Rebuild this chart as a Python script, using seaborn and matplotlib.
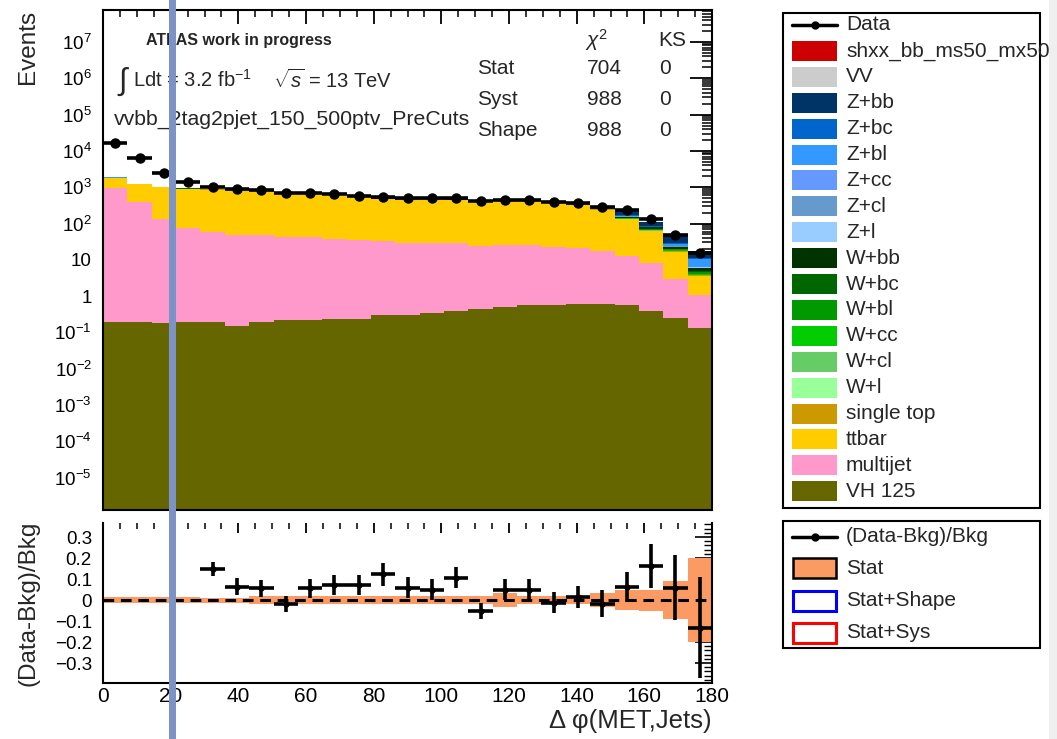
import numpy as np
import pandas as pd
import matplotlib
matplotlib.use("Agg")
import matplotlib.pyplot as plt
import seaborn as sns
from matplotlib.ticker import MultipleLocator, LogLocator, FuncFormatter, NullFormatter
from matplotlib.patches import Rectangle
from matplotlib.lines import Line2D

# ---------------- data ----------------
edges = np.linspace(0, 180, 26)

data_events = [16000, 6500, 2500, 1400, 1020, 870, 830, 700, 700, 630, 590, 550, 490,
               490, 510, 425, 445, 445, 400, 360, 280, 235, 131, 48, 15]

vh125 = [0.197, 0.197, 0.178, 0.19, 0.19, 0.153, 0.19, 0.215, 0.215, 0.24, 0.24, 0.31, 0.31,
         0.35, 0.39, 0.44, 0.49, 0.56, 0.56, 0.62, 0.62, 0.56, 0.39, 0.245, 0.135]
multijet = [970, 400, 132, 74, 59, 48, 48, 42, 42, 37, 35, 32, 28,
            28, 28, 23, 25.5, 24.5, 21.5, 20.4, 16.4, 12.0, 7.6, 2.65, 0.94]
ttbar = [850, 795, 855, 823, 796, 738, 707, 643, 592, 525, 490, 433, 411,
         416, 407, 400, 374, 375, 358, 302, 220, 117, 53, 13.9, 2.5]
single_top = [20, 18, 20, 20, 20, 19, 18, 17, 16, 14, 13, 12, 11,
              11, 11, 10, 10, 10, 9, 8, 7, 4, 2, 0.6, 0.15]
w_l = [3, 3, 1, 1, 1, 1, 1, 1, 1, 1, 1, 1, 1, 1, 1, 1, 1, 1, 1, 1, 1, 1, 0.5, 0.2, 0.1]
w_cl = [0.5, 0.5, 0.5, 0.5, 0.5, 0.5, 0.5, 0.5, 0.5, 0.5, 0.5, 0.5, 0.5,
        0.5, 0.5, 0.5, 0.5, 0.5, 0.5, 0.5, 0.5, 1.0, 0.7, 0.3, 0.1]
w_cc = [0.5, 0.5, 0.5, 0.5, 0.5, 0.5, 0.5, 0.5, 0.5, 0.5, 0.5, 0.5, 0.5,
        0.5, 0.5, 0.5, 0.5, 0.5, 0.5, 0.5, 1.0, 2.0, 1.5, 0.5, 0.2]
w_bl = [1, 1, 1, 1, 1, 1, 1, 1, 1, 1, 1, 1, 1, 1, 1, 1, 1, 1, 1, 1.5, 1.5, 4, 3, 1, 0.5]
w_bc = [0.5, 0.5, 0.5, 0.5, 0.5, 0.5, 0.5, 0.5, 0.5, 0.5, 0.5, 0.5, 0.5,
        0.5, 0.5, 0.5, 0.5, 0.5, 0.5, 1.0, 1.5, 3.0, 2.5, 1.0, 0.4]
w_bb = [1, 1, 1, 1, 1, 1, 1, 1, 1, 1, 1, 1, 1, 1, 1, 1, 1, 1, 1.5, 2, 4, 10, 7, 2.5, 1.1]
z_l = [1.0, 0.6, 0.6, 0.6, 0.6, 0.6, 0.6, 0.6, 0.6, 0.6, 0.6, 0.6, 0.6,
       0.6, 0.6, 0.6, 0.6, 0.6, 0.6, 0.6, 0.6, 0.6, 0.5, 0.2, 0.1]
z_cl = [0.5, 0.5, 0.5, 0.5, 0.5, 0.5, 0.5, 0.5, 0.5, 0.5, 0.5, 0.5, 0.5,
        0.5, 0.5, 0.5, 0.5, 0.5, 0.5, 0.5, 0.5, 0.5, 0.5, 0.2, 0.1]
z_cc = [0.8, 0.5, 0.5, 0.5, 0.5, 0.5, 0.5, 0.5, 0.5, 0.5, 0.5, 0.5, 0.5,
        0.5, 0.5, 0.5, 0.5, 0.5, 0.5, 0.5, 1.0, 1.0, 0.5, 0.2, 0.1]
z_bl = [4, 2, 1.5, 1.5, 1.5, 1.5, 1.5, 1.5, 1.5, 1.5, 1.5, 1.5, 1.5,
        1.5, 3, 3, 2, 1.5, 1.5, 1.5, 2, 3, 2, 3.5, 3.8]
z_bc = [1, 1, 1, 1, 1, 1, 1, 1, 1, 1, 1, 1, 1, 1, 1, 1, 1, 1, 1, 2, 4, 10, 5, 2.5, 1.1]
z_bb = [6, 4, 4, 4, 4, 4, 4, 4, 4, 4, 4, 4, 4, 4, 5, 5, 6, 7, 8, 12, 22, 50, 25, 15, 6]
vv = [0.8, 0.6, 0.6, 0.6, 0.6, 0.6, 0.6, 0.6, 0.6, 0.6, 0.6, 0.6, 0.6,
      0.6, 0.6, 0.6, 0.6, 0.6, 0.6, 0.7, 1.0, 1.5, 1.0, 0.5, 0.2]
signal = [0.0] * 25

# (Data-Bkg)/Bkg panel
ratio = [np.nan, np.nan, np.nan, np.nan, 0.149, 0.063, 0.056, -0.021, 0.056, 0.07, 0.07, 0.122, 0.059,
         0.048, 0.106, -0.052, 0.048, 0.048, -0.013, 0.016, -0.017, 0.062, 0.162, 0.059, -0.132]
ratio_err = [np.nan, np.nan, np.nan, np.nan, 0.033, 0.04, 0.04, 0.038, 0.045, 0.048, 0.048, 0.053, 0.05,
             0.05, 0.05, 0.04, 0.05, 0.05, 0.05, 0.053, 0.063, 0.073, 0.105, 0.156, 0.24]
stat_err = [0.016, 0.016, 0.016, 0.016, 0.012, 0.012, 0.017, 0.017, 0.017, 0.017, 0.017, 0.017, 0.017,
            0.017, 0.017, 0.017, 0.032, 0.02, 0.02, 0.02, 0.035, 0.048, 0.05, 0.089, 0.2]

process_names = ["shxx_bb_ms50_mx50", "VV", "Z+bb", "Z+bc", "Z+bl", "Z+cc", "Z+cl", "Z+l",
                 "W+bb", "W+bc", "W+bl", "W+cc", "W+cl", "W+l", "single top", "ttbar",
                 "multijet", "VH 125"]
process_values = [signal, vv, z_bb, z_bc, z_bl, z_cc, z_cl, z_l,
                  w_bb, w_bc, w_bl, w_cc, w_cl, w_l, single_top, ttbar, multijet, vh125]
process_colors = ["#CC0000", "#CCCCCC", "#003366", "#0066CC", "#3399FF", "#6699FF", "#6699CC", "#99CCFF",
                  "#003300", "#006600", "#009900", "#00CC00", "#66CC66", "#99FF99", "#CC9900", "#FFCC00",
                  "#FF99CC", "#666600"]

stat_table = [("Stat", "704", "0"), ("Syst", "988", "0"), ("Shape", "988", "0")]

# ---------------- style ----------------
sns.set_style("white")
plt.rcParams["font.family"] = ["Liberation Sans", "DejaVu Sans"]
plt.rcParams["mathtext.fontset"] = "custom"
plt.rcParams["mathtext.rm"] = "Liberation Sans"
plt.rcParams["mathtext.it"] = "Liberation Sans:italic"
plt.rcParams["mathtext.bf"] = "Liberation Sans:bold"
plt.rcParams["axes.unicode_minus"] = True

W, H = 1057, 739
fig = plt.figure(figsize=(W / 100, H / 100), dpi=100)


def fx(px):
    return px / W


def fy(py):
    return 1 - py / H


X0, X1 = 103, 712
ax = fig.add_axes([fx(X0), fy(510), fx(X1) - fx(X0), fy(10) - fy(510)])
axr = fig.add_axes([fx(X0), fy(683), fx(X1) - fx(X0), fy(523) - fy(683)])

centers = 0.5 * (edges[:-1] + edges[1:])
bin_w = np.diff(edges)
half = bin_w / 2

rows = []
for name, vals in zip(process_names, process_values):
    for c, v in zip(centers, vals):
        rows.append({"dphi": c, "events": v, "process": name})
df = pd.DataFrame(rows)

sns.histplot(data=df, x="dphi", weights="events", hue="process", hue_order=process_names,
             palette=dict(zip(process_names, process_colors)), multiple="stack",
             bins=[float(e) for e in edges],
             element="step", fill=True, alpha=1, linewidth=0, legend=False, ax=ax)
ax.set_yscale("log")
ax.errorbar(centers, data_events, xerr=half, fmt="o", color="black", ms=6.5,
            elinewidth=2.6, capsize=0, zorder=5)
ax.set_xlim(0, 180)
ax.set_ylim(10 ** -5.89, 10 ** 7.88)


def logfmt(v, pos):
    e = int(round(np.log10(v)))
    if e == 0:
        return "1"
    if e == 1:
        return "10"
    return r"$\mathregular{10^{%d}}$" % e


ax.yaxis.set_major_locator(LogLocator(base=10, numticks=40))
ax.yaxis.set_minor_locator(LogLocator(base=10, subs=np.arange(2, 10), numticks=40))
ax.yaxis.set_major_formatter(FuncFormatter(logfmt))
ax.yaxis.set_minor_formatter(NullFormatter())
ax.xaxis.set_major_locator(MultipleLocator(20))
ax.xaxis.set_minor_locator(MultipleLocator(5))
ax.tick_params(which="both", direction="in", top=True, right=True, labelbottom=False, colors="black")
ax.tick_params(axis="y", which="major", length=15.5, width=1.3, labelsize=13.5, pad=8)
ax.tick_params(axis="y", which="minor", length=7.5, width=1.1)
ax.tick_params(axis="x", which="major", length=10, width=1.3)
ax.tick_params(axis="x", which="minor", length=5, width=1.1)
ax.set_xlabel("")
ax.set_ylabel("Events", fontsize=17.5, loc="top")
ax.yaxis.set_label_coords(-0.105, 1.0)
for s in ax.spines.values():
    s.set_linewidth(1.5)
    s.set_color("black")

# ratio panel
axr.bar(centers, 2 * np.array(stat_err), bottom=-np.array(stat_err), width=bin_w,
        color="#FC9A64", linewidth=0, zorder=1)
axr.axhline(0, color="black", ls=(0, (3.5, 2.2)), lw=2.2, zorder=2)
axr.errorbar(centers, ratio, yerr=ratio_err, xerr=half, fmt="o", ms=3.5, color="black",
             elinewidth=2.6, capsize=0, zorder=3)
axr.set_xlim(0, 180)
axr.set_ylim(-0.395, 0.367)
axr.xaxis.set_major_locator(MultipleLocator(20))
axr.xaxis.set_minor_locator(MultipleLocator(5))
axr.yaxis.set_major_locator(MultipleLocator(0.1))
axr.yaxis.set_minor_locator(MultipleLocator(0.02))
axr.yaxis.set_major_formatter(FuncFormatter(lambda v, p: "0" if abs(v) < 1e-9 else ("%.1f" % v).replace("-", "\u2212")))
axr.tick_params(which="both", direction="in", top=True, right=True, colors="black")
axr.tick_params(axis="y", which="major", length=12, width=1.2, labelsize=13.5, pad=8)
axr.tick_params(axis="y", which="minor", length=5.5, width=1.0)
axr.tick_params(axis="x", which="major", length=7, width=1.3, labelsize=15, pad=3)
axr.tick_params(axis="x", which="minor", length=4, width=1.1)
axr.spines["top"].set_visible(False)
for k in ("left", "right", "bottom"):
    axr.spines[k].set_linewidth(1.5)
    axr.spines[k].set_color("black")
axr.set_ylabel("(Data-Bkg)/Bkg", fontsize=17.5)
axr.yaxis.set_label_coords(-0.105, 0.5)
axr.set_xlabel("\u0394 \u03c6(MET,Jets)", fontsize=18.5, loc="right")
axr.xaxis.set_label_coords(1.0, -0.16)

# ---------------- overlay (texts, legends) ----------------
ov = fig.add_axes([0, 0, 1, 1], zorder=10)
ov.set_xlim(0, W)
ov.set_ylim(H, 0)
ov.axis("off")
ov.patch.set_visible(False)

ov.text(146, 41, "ATLAS work in progress", fontsize=11.5, fontweight="bold", va="center", ha="left")
ov.text(117, 82, r"$\int$", fontsize=22, va="center", ha="left")
ov.text(133, 80, r"Ldt = 3.2 fb$^{-1}$", fontsize=14.5, va="center", ha="left")
ov.text(273, 80, r"$\sqrt{s}$ = 13 TeV", fontsize=14.5, va="center", ha="left")
ov.text(114, 119, "vvbb_2tag2pjet_150_500ptv_PreCuts", fontsize=15.3, va="center", ha="left")
ov.text(597, 40, r"$\chi^{2}$", fontsize=15, va="center", ha="center")
ov.text(672, 40, "KS", fontsize=15, va="center", ha="center")
for i, (lab, chi, ks) in enumerate(stat_table):
    yy = 68 + 31.5 * i
    ov.text(477, yy, lab, fontsize=15, va="center", ha="left")
    ov.text(604, yy, chi, fontsize=15, va="center", ha="center")
    ov.text(665, yy, ks, fontsize=15, va="center", ha="center")

# legend 1
ov.add_patch(Rectangle((783, 13), 257, 495, fill=False, ec="black", lw=1.5))
y0, dy = 25, 25.9
ov.add_line(Line2D([792, 837], [y0, y0], color="black", lw=2.5))
ov.plot([814.5], [y0], "o", color="black", ms=5)
ov.text(846, y0, "Data", fontsize=15, va="center", ha="left")
for i, (name, col) in enumerate(zip(process_names, process_colors)):
    yy = y0 + dy * (i + 1)
    ov.add_patch(Rectangle((792, yy - 10), 45, 20, fc=col, ec="none"))
    ov.text(846, yy, name, fontsize=15, va="center", ha="left")

# legend 2
ov.add_patch(Rectangle((783, 521), 257, 127, fill=False, ec="black", lw=1.5))
ov.add_line(Line2D([792, 837], [537, 537], color="black", lw=2.5))
ov.plot([814.5], [537], "o", color="black", ms=5)
ov.text(846, 537, "(Data-Bkg)/Bkg", fontsize=15, va="center", ha="left")
r2 = [("Stat", "#FC9A64", "black", 1.8), ("Stat+Shape", "white", "#0000FF", 2.2),
      ("Stat+Sys", "white", "#FF0000", 2.2)]
for i, (lab, fc, ec, lw) in enumerate(r2):
    yy = 568 + 32.5 * i
    ov.add_patch(Rectangle((793, yy - 10), 43, 20, fc=fc, ec=ec, lw=lw))
    ov.text(846, yy, lab, fontsize=15, va="center", ha="left")

# screenshot artefacts: vertical cursor bar and right gray strip
ov.add_patch(Rectangle((168.5, 0), 7.5, H, fc="#7B93C7", ec="none", zorder=30))
ov.add_patch(Rectangle((1049, 0), 8, H, fc="#EFEFEF", ec="none", zorder=30))

fig.savefig("out.png", dpi=100)
